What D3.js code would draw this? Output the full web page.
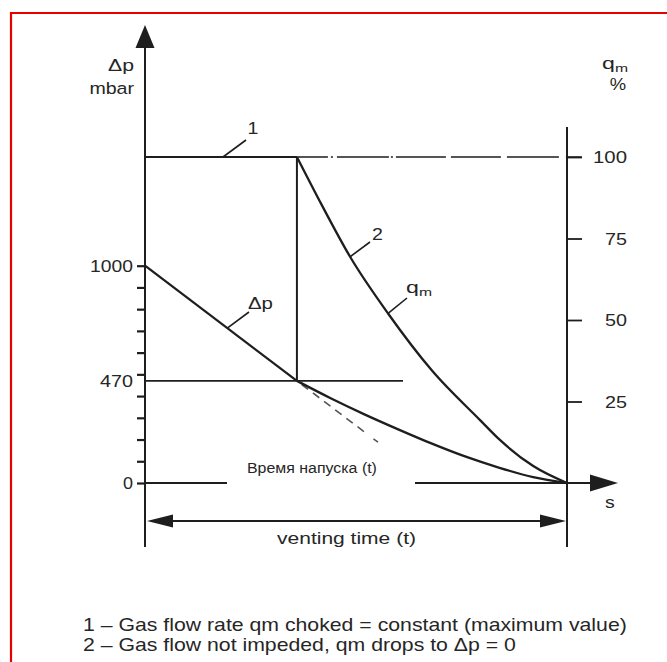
<!DOCTYPE html>
<html><head><meta charset="utf-8">
<script src="https://cdn.jsdelivr.net/npm/d3@7"></script>
<style>html,body{margin:0;padding:0;background:#fff;} svg{display:block;} text{font-family:"Liberation Sans",Arial,sans-serif;fill:#262626;}</style>
</head><body>
<svg id="c" width="667" height="662"></svg>
<script>
// ---- data ----
const timeDomain = [0, 100];                 // venting time, % of total (s)
const dpTickValues = [0, 100, 200, 300, 400, 500, 600, 700, 800, 900, 1000];
const dpTickLabels = [[0, "0"], [470, "470"], [1000, "1000"]];
const qmTickValues = [25, 50, 75, 100];
const chokeTime = 36;                          // time where curve 1 ends
const chokePressure = 470;                     // critical Δp (mbar)
const dpLinear = [[0, 1000], [36, 470]];       // Δp while choked
const dpDashed = [[36, 470], [55.2, 188]];     // continuation of linear drop
const dpCurve = [[36, 470], [44, 390], [52, 316], [60, 247], [68, 181], [76, 121], [84, 70], [92, 27], [100, 0]];
const qmChoked = [[0, 100], [36, 100]];        // curve 1 (constant)
const qmChokedExt = [[36, 100], [103.5, 100]]; // dash-dot continuation
const qmCurve = [[36, 100], [42, 85], [48.6, 69.4], [57.6, 52], [68, 34.5], [79.4, 19.3], [84.1, 13.2], [92, 5.2], [100, 0]];
const legendLines = ["1 \u2013 Gas flow rate qm choked = constant (maximum value)", "2 \u2013 Gas flow not impeded, qm drops to \u0394p = 0"];

// ---- layout ----
const svg = d3.select("#c");
const x = d3.scaleLinear().domain(timeDomain).range([145, 567]);
const yDp = d3.scaleLinear().domain([0, 1000]).range([483, 265.7]);
const yQm = d3.scaleLinear().domain([0, 100]).range([483, 157]);
const ink = "#1e1e1e";
const SX = 1.15;   // horizontal stretch of the scanned lettering

// text helper: parts = [[str, sub?]], width = target width (optional)
function label(px, py, parts, size, anchor, width) {
  const g = svg.append("g");
  const t = g.append("text").attr("font-size", size).attr("text-anchor", anchor || "start");
  parts.forEach(p => {
    if (typeof p === "string") t.append("tspan").text(p);
    else t.append("tspan").attr("font-size", size * 0.68).attr("dy", size * 0.18).text(p[0]);
  });
  const w = t.node().getBBox().width;
  const sx = width ? width / w : SX;
  g.attr("transform", `translate(${px},${py}) scale(${sx},1)`);
  return sx;
}

// red frame
svg.append("path").attr("d", "M11,662 L11,13 L667,13").attr("fill", "none").attr("stroke", "#e60000").attr("stroke-width", 2.2);

// left axis
svg.append("line").attr("x1", x(0)).attr("x2", x(0)).attr("y1", 547).attr("y2", 40).attr("stroke", ink).attr("stroke-width", 2);
svg.append("path").attr("d", `M${x(0)},25 L${x(0)-9.5},48 L${x(0)+9.5},48 Z`).attr("fill", ink);
const leftAxis = d3.axisLeft(yDp).tickValues(dpTickValues).tickSize(8).tickFormat("");
const gl = svg.append("g").attr("transform", `translate(${x(0)},0)`).call(leftAxis);
gl.select(".domain").remove();
gl.selectAll(".tick line").attr("stroke", ink).attr("stroke-width", 2.2);
const dpLabelWidths = {"0": 10, "470": 33, "1000": 43};
dpTickLabels.forEach(d => label(133, yDp(d[0]) + 6, [d[1]], 17, "end", dpLabelWidths[d[1]]));

// right axis
svg.append("line").attr("x1", x(100)).attr("x2", x(100)).attr("y1", 127).attr("y2", 547).attr("stroke", ink).attr("stroke-width", 2);
const rightAxis = d3.axisRight(yQm).tickValues(qmTickValues).tickSize(15).tickFormat("");
const gr = svg.append("g").attr("transform", `translate(${x(100)},0)`).call(rightAxis);
gr.select(".domain").remove();
gr.selectAll(".tick line").attr("stroke", ink).attr("stroke-width", 1.8);
qmTickValues.forEach(v => label(627, yQm(v) + 6, [String(v)], 17, "end", v === 100 ? 34 : 22));

// x axis (broken for the label)
svg.append("line").attr("x1", x(0)).attr("x2", 227).attr("y1", yDp(0)).attr("y2", yDp(0)).attr("stroke", ink).attr("stroke-width", 2);
svg.append("line").attr("x1", 415).attr("x2", 595).attr("y1", yDp(0)).attr("y2", yDp(0)).attr("stroke", ink).attr("stroke-width", 2);
svg.append("path").attr("d", `M618,${yDp(0)} L590,${yDp(0)-8.5} L590,${yDp(0)+8.5} Z`).attr("fill", ink);
label(610, 508, ["s"], 17, "middle");
label(247, 473, ["Время напуска (t)"], 14.5, "start", 130);

// axis titles
label(134, 71, ["\u0394p"], 17, "end", 26);
label(134, 94, ["mbar"], 17, "end", 45);
label(628, 69, ["q", ["m"]], 17, "end", 26);
label(626, 90, ["%"], 16, "end");

// guide lines
svg.append("line").attr("x1", x(chokeTime)).attr("x2", x(chokeTime)).attr("y1", yQm(100)).attr("y2", yDp(chokePressure)).attr("stroke", ink).attr("stroke-width", 2);
svg.append("line").attr("x1", x(0)).attr("x2", 403).attr("y1", yDp(chokePressure)).attr("y2", yDp(chokePressure)).attr("stroke", ink).attr("stroke-width", 1.7);

// curves
const lineDp = d3.line().x(d => x(d[0])).y(d => yDp(d[1]));
const lineQm = d3.line().x(d => x(d[0])).y(d => yQm(d[1]));
const smoothDp = d3.line().x(d => x(d[0])).y(d => yDp(d[1])).curve(d3.curveMonotoneX);
const smoothQm = d3.line().x(d => x(d[0])).y(d => yQm(d[1])).curve(d3.curveMonotoneX);
svg.append("path").attr("d", lineQm(qmChoked)).attr("fill", "none").attr("stroke", ink).attr("stroke-width", 2);
svg.append("path").attr("d", lineQm(qmChokedExt)).attr("fill", "none").attr("stroke", ink).attr("stroke-width", 1.5)
  .attr("stroke-dasharray", "31,3,2,4,52,2,2,3,50,5,50,6,52,7,80");
svg.append("path").attr("d", lineDp(dpLinear)).attr("fill", "none").attr("stroke", ink).attr("stroke-width", 2.3);
svg.append("path").attr("d", lineDp(dpDashed)).attr("fill", "none").attr("stroke", "#555").attr("stroke-width", 1.6)
  .attr("stroke-dasharray", "0,6,8,6,8,6,8,6,8,6,8,6,8,6");
svg.append("path").attr("d", smoothDp(dpCurve)).attr("fill", "none").attr("stroke", ink).attr("stroke-width", 2.3);
svg.append("path").attr("d", smoothQm(qmCurve)).attr("fill", "none").attr("stroke", ink).attr("stroke-width", 2.3);

// leader labels
function leader(x1, y1, x2, y2){ svg.append("line").attr("x1", x1).attr("y1", y1).attr("x2", x2).attr("y2", y2).attr("stroke", ink).attr("stroke-width", 1.6); }
leader(223, yQm(100), 246, 140); label(253, 134, ["1"], 17, "middle");
leader(x(19.5), yDp(1000 - 19.5 * 14.72), 249, 312); label(248, 309, ["\u0394p"], 17, "start", 25);
leader(x(qmCurve[2][0]), yQm(qmCurve[2][1]), 370, 242); label(372, 240, ["2"], 17, "start");
leader(x(qmCurve[3][0]), yQm(qmCurve[3][1]), 407, 298); label(406, 293, ["q", ["m"]], 17, "start", 26);

// venting time dimension
svg.append("line").attr("x1", 165).attr("x2", 550).attr("y1", 521).attr("y2", 521).attr("stroke", ink).attr("stroke-width", 2);
svg.append("path").attr("d", `M147,521 L173,514.5 L173,527.5 Z`).attr("fill", ink);
svg.append("path").attr("d", `M566,521 L540,514.5 L540,527.5 Z`).attr("fill", ink);
label(346.5, 544, ["venting time (t)"], 17, "middle", 139);

// legend
const lsx = label(83, 631, [legendLines[0]], 18, "start", 544);
const lg = svg.append("g").attr("transform", `translate(83,651) scale(${lsx},1)`);
lg.append("text").attr("font-size", 18).text(legendLines[1]);
</script>
</body></html>
